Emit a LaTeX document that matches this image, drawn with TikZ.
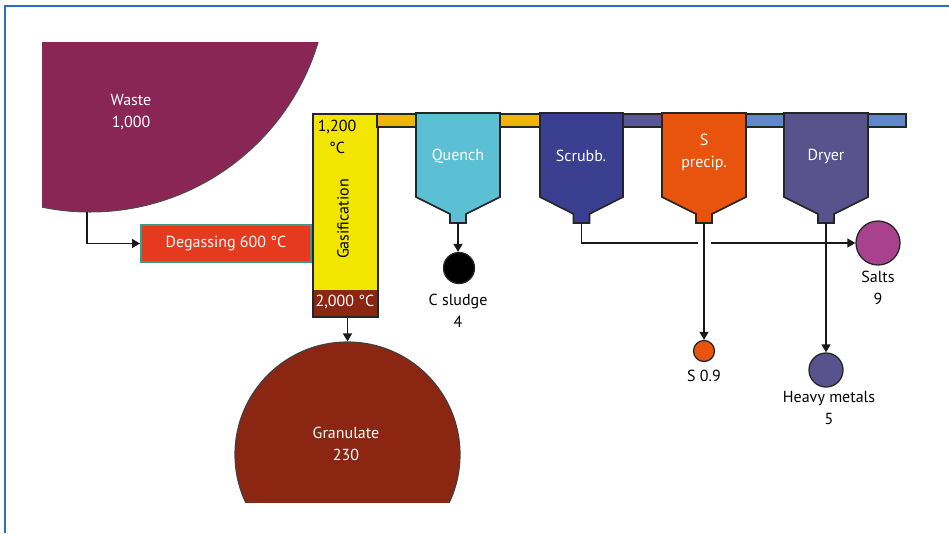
\documentclass[tikz,border=0pt]{standalone}
\usepackage{fontspec}
\setmainfont{PT Sans}
\usetikzlibrary{arrows.meta}
\definecolor{frameblue}{HTML}{2B6FC8}
\definecolor{wastec}{HTML}{8A2656}
\definecolor{degasc}{HTML}{E53A1E}
\definecolor{degasb}{HTML}{3E9A82}
\definecolor{gasy}{HTML}{F2E500}
\definecolor{brownc}{HTML}{8A2612}
\definecolor{pipeo}{HTML}{EFB50A}
\definecolor{pipep}{HTML}{5A5795}
\definecolor{pipeb}{HTML}{5F87C9}
\definecolor{quenchc}{HTML}{5CC0D4}
\definecolor{scrubc}{HTML}{3A3F90}
\definecolor{sprecc}{HTML}{E8540E}
\definecolor{dryerc}{HTML}{58538C}
\definecolor{saltsc}{HTML}{A8428F}
\newcommand\vesselshape[4]{% left x, right x, colour, name
  \pgfmathsetmacro\vc{(#1+#2)/2}
  \draw[vline, fill=#3] (#1,113) -- (#1,197) -- (\vc-8,214) -- (\vc-8,223) -- (\vc+8,223) -- (\vc+8,214) -- (#2,197) -- (#2,113) -- cycle;
  \coordinate (#4) at (\vc,223);
}
\begin{document}
\begin{tikzpicture}[x=1pt,y=-1pt,
  txt/.style={font=\fontsize{16}{22}\selectfont, align=center, inner sep=0pt},
  wtxt/.style={txt, text=white},
  vline/.style={draw=black!85, line width=1.6pt, line join=miter},
  conn/.style={draw=black!90, line width=1.5pt, -{Triangle[length=8pt,width=9pt]}},
  plain/.style={draw=black!90, line width=1.5pt},
  pipe/.style={draw=black!85, line width=1.6pt},
  ball/.style={circle, draw=black!85, line width=1.3pt, inner sep=0pt}]
\useasboundingbox (0,0) rectangle (949,533);
% frame
\draw[frameblue, line width=1.5pt] (949,6) -- (5,6) -- (5,533);
% waste
\begin{scope}
  \clip (42,42) rectangle (420,300);
  \filldraw[fill=wastec, draw=black!70, line width=1pt] (90,-26) circle (238);
\end{scope}
\node[wtxt] (waste) at (131,112) {Waste\\1,000};
\coordinate (wout) at (87,212);
% degassing
\node[draw=degasb, fill=degasc, line width=2pt, minimum width=170, minimum height=37, inner sep=0pt,
  font=\fontsize{16}{22}\selectfont, text=white] (degas) at (226,243.5) {Degassing 600 °C};
% gasification column
\fill[gasy] (312,113) rectangle (377,290);
\fill[brownc] (312,290) rectangle (377,316);
\node[draw=black!85, line width=1.8pt, minimum width=65, minimum height=203, inner sep=0pt, anchor=north west] (gas) at (312,113) {};
\node[txt] (g1200) at (337,137) {1,200\\°C};
\node[txt, rotate=90] (gasif) at (343,219) {Gasification};
\node[wtxt] (g2000) at (345,302) {2,000 °C};
% granulate
\begin{scope}
  \clip (0,0) rectangle (949,502);
  \node[circle, fill=brownc, draw=black!75, line width=1.2pt, minimum size=225, inner sep=0pt] (gran) at (347.5,454.5) {};
\end{scope}
\node[wtxt] (granl) at (346,444) {Granulate\\230};
% pipes
\draw[pipe, fill=pipeo] (377,114) rectangle (417,127);
\draw[pipe, fill=pipeo] (500,114) rectangle (540,127);
\draw[pipe, fill=pipep] (623,114) rectangle (662,127);
\draw[pipe, fill=pipeb] (746,114) rectangle (784,127);
\draw[pipe, fill=pipeb] (868,114) rectangle (906,127);
% vessels
\vesselshape{416}{500}{quenchc}{qn}
\vesselshape{540}{623}{scrubc}{sn}
\vesselshape{662}{746}{sprecc}{pn}
\vesselshape{784}{868}{dryerc}{dn}
\node[wtxt] (quench) at (458,156) {Quench};
\node[wtxt] (scrub) at (581,156) {Scrubb.};
\node[wtxt] (sprec) at (704,152) {S\\precip.};
\node[wtxt] (dryer) at (826,156) {Dryer};
% outputs
\node[ball, fill=black, minimum size=31] (csl) at (459,268) {};
\node[txt] (csll) at (458,311) {C sludge\\4};
\node[ball, fill=saltsc, minimum size=44] (salts) at (878,243) {};
\node[txt] (saltsl) at (878,288) {Salts\\9};
\node[ball, fill=sprecc, minimum size=21] (sball) at (704,351) {};
\node[txt] (sballl) at (704,376) {S 0.9};
\node[ball, fill=dryerc, minimum size=34] (hm) at (826,370) {};
\node[txt] (hml) at (829,408) {Heavy metals\\5};
% connectors
\draw[conn] (wout) |- (degas.west);
\draw[conn] (gran.north |- gas.south) -- (gran.north);
\draw[conn] (qn) -- (qn |- csl.north);
\coordinate (gapl) at (698,243);
\coordinate (gapr) at (711,243);
\draw[plain] (sn) |- (gapl);
\draw[conn] (gapr) -- (salts.west);
\draw[conn] (pn) -- (sball.north);
\draw[conn] (dn) -- (hm.north);
\end{tikzpicture}
\end{document}
